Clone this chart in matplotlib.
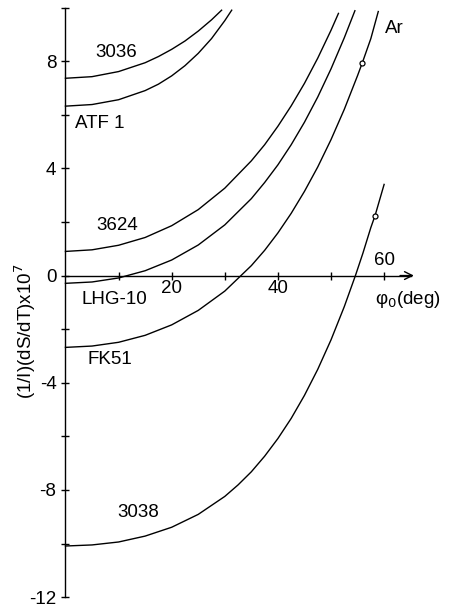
import matplotlib
matplotlib.use("Agg")
import matplotlib.pyplot as plt
from matplotlib.ticker import FixedLocator, NullFormatter, FixedFormatter

plt.rcParams['font.family'] = ['Liberation Sans', 'DejaVu Sans']
plt.rcParams['axes.unicode_minus'] = False
FS = 13.5

# ---- data (phi0 in deg, value x1e7) ----
phi_3036 = [0, 5, 10, 15, 17.5, 20, 22.5, 25, 27.5, 29.4]
val_3036 = [7.36, 7.42, 7.61, 7.94, 8.17, 8.44, 8.75, 9.12, 9.54, 9.90]

phi_atf1 = [0, 5, 10, 15, 17.5, 20, 22.5, 25, 27.5, 30, 31.3]
val_atf1 = [6.32, 6.38, 6.56, 6.90, 7.14, 7.45, 7.83, 8.29, 8.84, 9.51, 9.90]

phi_3624 = [0, 5, 10, 15, 20, 25, 30, 35, 37.5, 40, 42.5, 45, 47.5, 50, 51.4]
val_3624 = [0.90, 0.96, 1.13, 1.42, 1.86, 2.46, 3.26, 4.28, 4.88, 5.57, 6.33,
            7.17, 8.11, 9.15, 9.78]

phi_lhg = [0, 5, 10, 15, 20, 25, 30, 35, 37.5, 40, 42.5, 45, 47.5, 50, 52.5, 54.5]
val_lhg = [-0.29, -0.24, -0.09, 0.18, 0.58, 1.14, 1.89, 2.87, 3.47, 4.13, 4.88,
           5.72, 6.66, 7.71, 8.87, 9.88]

phi_fk51 = [0, 5, 10, 15, 20, 25, 30, 35, 37.5, 40, 42.5, 45, 47.5, 50, 52.5,
            55, 55.9, 57.5, 58.9]
val_fk51 = [-2.68, -2.63, -2.49, -2.23, -1.84, -1.30, -0.58, 0.37, 0.94, 1.59,
            2.32, 3.14, 4.05, 5.07, 6.20, 7.46, 7.94, 8.84, 9.85]

phi_3038 = [0, 5, 10, 15, 20, 25, 30, 32.5, 35, 37.5, 40, 42.5, 45, 47.5, 50,
            52.5, 54.6, 56, 57.5, 58.3, 60]
val_3038 = [-10.09, -10.05, -9.94, -9.72, -9.39, -8.91, -8.24, -7.81, -7.32,
            -6.74, -6.08, -5.33, -4.47, -3.50, -2.40, -1.16, 0.0, 0.83, 1.79,
            2.24, 3.40]

# Ar points (open circles)
ar_phi = [55.9, 58.3]
ar_val = [7.94, 2.24]

curves = [
    (phi_3036, val_3036), (phi_atf1, val_atf1), (phi_3624, val_3624),
    (phi_lhg, val_lhg), (phi_fk51, val_fk51), (phi_3038, val_3038),
]

labels = [
    ("3036", 9.5, 8.34),
    ("ATF 1", 6.5, 5.69),
    ("3624", 9.7, 1.88),
    ("LHG-10", 9.3, -0.91),
    ("FK51", 8.4, -3.15),
    ("3038", 13.7, -8.83),
    ("Ar", 62.0, 9.2),
]

y_major = [-12, -8, -4, 0, 4, 8]
y_minor = [-10, -6, -2, 2, 6, 10]
x_major = [20, 40]
x_minor = [10, 30, 50, 60]

fig = plt.figure(figsize=(4.54, 6.09), dpi=100)
ax = fig.add_axes([0, 0, 1, 1])
ax.set_xlim(-12.33, 73.16)
ax.set_ylim(-12.44, 10.28)
ax.patch.set_alpha(0)

for p, v in curves:
    ax.plot(p, v, color='black', lw=1.0, solid_joinstyle='round')

ax.plot(ar_phi, ar_val, linestyle='none', marker='o', ms=3.6,
        mfc='white', mec='black', mew=0.9, zorder=5)

for t, x, y in labels:
    ax.text(x, y, t, fontsize=FS, ha='center', va='center')

# axes through the origin
for s in ['top', 'right']:
    ax.spines[s].set_visible(False)
ax.spines['left'].set_position(('data', 0))
ax.spines['bottom'].set_position(('data', 0))
ax.spines['left'].set_bounds(-12, 10)
ax.spines['bottom'].set_bounds(0, 65)
for s in ['left', 'bottom']:
    ax.spines[s].set_linewidth(1.0)

ax.yaxis.set_major_locator(FixedLocator(y_major))
ax.yaxis.set_minor_locator(FixedLocator(y_minor))
ax.yaxis.set_major_formatter(FixedFormatter([str(v) for v in y_major]))
ax.yaxis.set_minor_formatter(NullFormatter())
ax.xaxis.set_major_locator(FixedLocator(x_major))
ax.xaxis.set_minor_locator(FixedLocator(x_minor))
ax.xaxis.set_major_formatter(FixedFormatter([str(v) for v in x_major]))
ax.xaxis.set_minor_formatter(NullFormatter())

ax.tick_params(axis='both', which='both', direction='inout', length=6,
               width=1.0, labelsize=FS)
ax.tick_params(axis='y', which='both', pad=3.5)
ax.tick_params(axis='x', which='both', pad=0.5)

ax.annotate('', xy=(65.6, 0), xytext=(63.0, 0),
            arrowprops=dict(arrowstyle='->', lw=1.0, color='black',
                            shrinkA=0, shrinkB=0, mutation_scale=14))

ax.text(60.0, 0.58, "60", fontsize=FS, ha='center', va='center')
ax.text(58.3, -0.88, "φ$_0$(deg)", fontsize=FS, ha='left', va='center')
ax.text(-7.63, -2.07, r"(1/I)(dS/dT)x10$^7$", fontsize=FS, rotation=90,
        ha='center', va='center')

fig.savefig("out.png", dpi=100)
